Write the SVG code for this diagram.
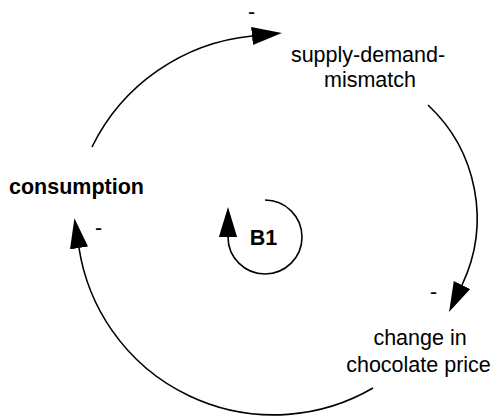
<svg xmlns="http://www.w3.org/2000/svg" width="494" height="417" viewBox="0 0 494 417">
<defs>
<marker id="ah" markerUnits="userSpaceOnUse" markerWidth="30" markerHeight="20" refX="0" refY="8.5" orient="auto" viewBox="0 0 28 17">
<path d="M0,0 L28,8.5 L0,17 Z" fill="#000"/>
</marker>
<style>
.t{font-family:"Liberation Sans",Arial,sans-serif;font-size:21.5px;fill:#000}
.b{font-weight:bold}
.c{fill:none;stroke:#000;stroke-width:1.6}
</style>
</defs>
<rect width="494" height="417" fill="#fff"/>
<g id="connectors">
<path class="c" d="M92,147 A200,200 0 0 1 252,36" marker-end="url(#ah)"/>
<path class="c" d="M428,105 A155,155 0 0 1 462,285" marker-end="url(#ah)"/>
<path class="c" d="M373,388 A197,197 0 0 1 79,248" marker-end="url(#ah)"/>
<text class="t" x="248" y="19">-</text>
<text class="t" x="430" y="299">-</text>
<text class="t" x="95" y="235">-</text>
</g>
<g id="supply-demand-mismatch">
<text class="t" x="368" y="62" text-anchor="middle">supply-demand-</text>
<text class="t" x="370" y="87" text-anchor="middle">mismatch</text>
</g>
<g id="change-in-chocolate-price">
<text class="t" x="420" y="345" text-anchor="middle">change in</text>
<text class="t" x="418.5" y="372" text-anchor="middle">chocolate price</text>
</g>
<g id="consumption">
<text class="t b" x="9" y="194">consumption</text>
</g>
<g id="B1">
<path class="c" d="M265,200 A37,37 0 1 1 228,237" marker-end="url(#ah)"/>
<text class="t b" x="263.5" y="245" text-anchor="middle">B1</text>
</g>
</svg>
